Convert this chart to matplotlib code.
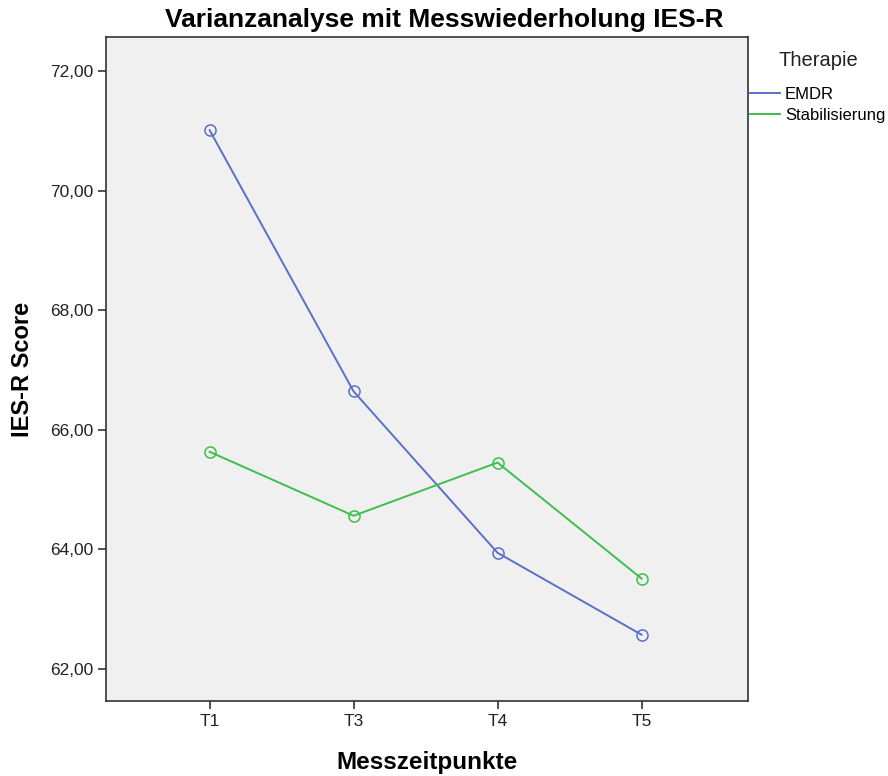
import matplotlib.pyplot as plt
from matplotlib.ticker import FuncFormatter

plt.rcParams['font.family'] = ['Liberation Sans', 'DejaVu Sans']

zeitpunkte = ["T1", "T3", "T4", "T5"]
emdr = [71.01, 66.64, 63.94, 62.57]
stabilisierung = [65.63, 64.56, 65.45, 63.51]
y_ticks = [62, 64, 66, 68, 70, 72]

fig = plt.figure(figsize=(8.88, 7.76), dpi=100)
ax = fig.add_axes([0.1194, 0.0966, 0.7230, 0.8557])
ax.set_facecolor('#f0f0f0')

x = range(len(zeitpunkte))
l1, = ax.plot(x, emdr, color='#5b6fc9', lw=1.4, marker='o', ms=8,
              mfc='none', mec='#5b6fc9', mew=1.1, label='EMDR')
l2, = ax.plot(x, stabilisierung, color='#3dbf4c', lw=1.4, marker='o', ms=8,
              mfc='none', mec='#3dbf4c', mew=1.1, label='Stabilisierung')

ax.set_xlim(-0.72, 3.74)
ax.set_ylim(61.46, 72.57)
ax.set_xticks(list(x))
ax.set_xticklabels(zeitpunkte)
ax.set_yticks(y_ticks)
ax.yaxis.set_major_formatter(FuncFormatter(lambda v, p: f"{v:.2f}".replace('.', ',')))
ax.tick_params(direction='out', length=6, width=1.2, labelsize=12.5, colors='#333333',
               labelcolor='#222222', pad=3)
for s in ax.spines.values():
    s.set_color('#333333')
    s.set_linewidth(1.2)

fig.text(0.5, 1 - 20 / 776, "Varianzanalyse mit Messwiederholung IES-R", ha='center', va='center',
         fontsize=19, fontweight='bold')
ax.set_xlabel("Messzeitpunkte", fontsize=17.5, fontweight='bold', va='center')
ax.xaxis.set_label_coords(0.5, -61 / 664)
ax.set_ylabel("IES-R Score", fontsize=17, fontweight='bold', va='center')
ax.yaxis.set_label_coords(-84 / 642, 0.5)

# Legende: Titel separat, Einträge darunter
fig.text(818 / 888, 1 - 60 / 776, "Therapie", ha='center', va='center',
         fontsize=14.5, color='#222222')
leg = fig.legend(handles=[l1, l2], loc='upper left', bbox_to_anchor=(750 / 888, 1 - 87 / 776),
                 frameon=False, fontsize=12, handlelength=1.8, handletextpad=0.3,
                 borderaxespad=0, borderpad=0, labelspacing=0.35)
for h in leg.legend_handles:
    h.set_marker('')

fig.savefig('out.png', dpi=100)
